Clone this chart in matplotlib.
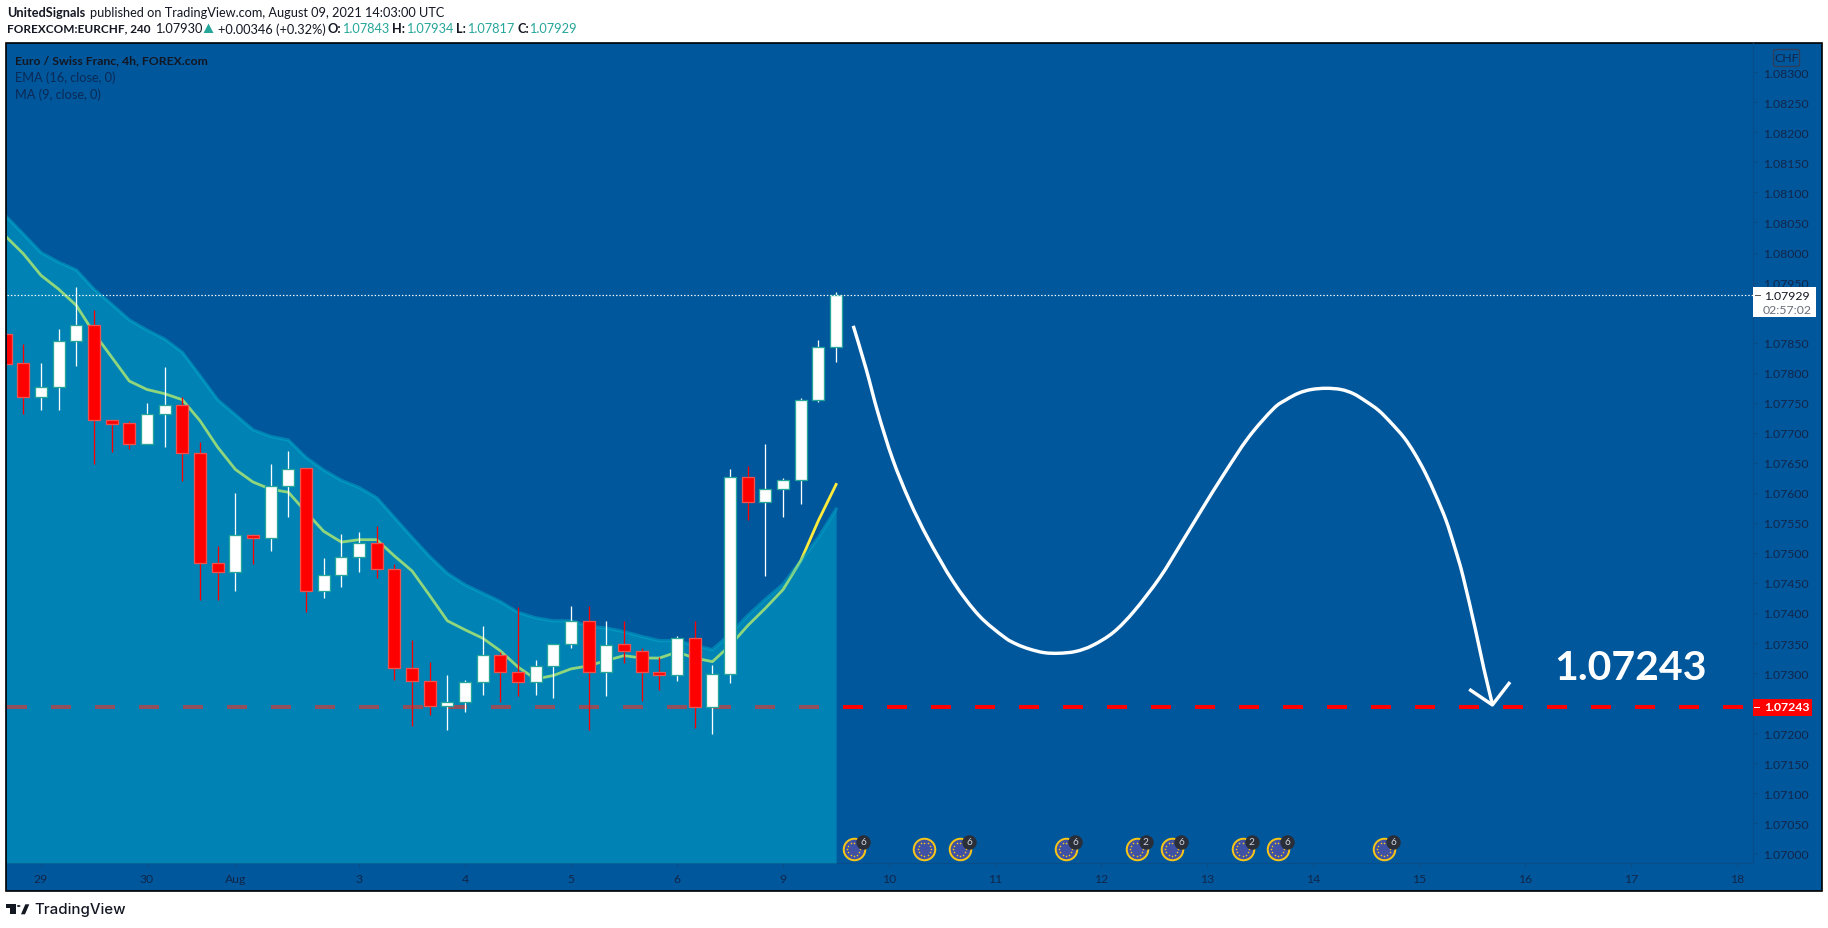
import matplotlib
matplotlib.use("Agg")
import matplotlib.pyplot as plt
from matplotlib.patches import Rectangle, Polygon, Circle, FancyBboxPatch, PathPatch
from matplotlib.path import Path
from matplotlib.lines import Line2D
from matplotlib.transforms import offset_copy
import math

# ---------- data ----------
opens = [1.07864,1.07816,1.07759,1.07777,1.07852,1.07879,1.07721,1.07716,1.07682,1.07732,1.07746,1.07666,1.07484,1.07469,1.07529,1.07524,1.07612,1.07641,1.07436,1.07464,1.07494,1.07516,1.07474,1.07308,1.07286,1.07246,1.07252,1.07285,1.07330,1.07301,1.07285,1.07312,1.07349,1.07386,1.07301,1.07348,1.07336,1.07301,1.07297,1.07359,1.07243,1.07298,1.07626,1.07584,1.07606,1.07621,1.07754,1.07842]
highs = [1.07864,1.07848,1.07816,1.07873,1.07943,1.07904,1.07721,1.07720,1.07750,1.07810,1.07760,1.07684,1.07511,1.07600,1.07531,1.07648,1.07670,1.07641,1.07492,1.07531,1.07535,1.07544,1.07481,1.07355,1.07318,1.07297,1.07288,1.07378,1.07335,1.07410,1.07322,1.07349,1.07412,1.07412,1.07387,1.07387,1.07341,1.07327,1.07362,1.07387,1.07313,1.07640,1.07644,1.07681,1.07625,1.07758,1.07854,1.07934]
lows = [1.07815,1.07731,1.07738,1.07738,1.07811,1.07648,1.07668,1.07673,1.07682,1.07676,1.07620,1.07422,1.07422,1.07437,1.07481,1.07503,1.07560,1.07402,1.07425,1.07444,1.07469,1.07459,1.07288,1.07212,1.07231,1.07206,1.07236,1.07264,1.07252,1.07262,1.07264,1.07259,1.07341,1.07206,1.07261,1.07316,1.07254,1.07272,1.07287,1.07208,1.07199,1.07284,1.07555,1.07461,1.07559,1.07582,1.07752,1.07817]
closes = [1.07815,1.07759,1.07777,1.07852,1.07879,1.07721,1.07715,1.07682,1.07732,1.07746,1.07666,1.07484,1.07469,1.07529,1.07524,1.07612,1.07640,1.07436,1.07464,1.07494,1.07516,1.07474,1.07308,1.07286,1.07246,1.07252,1.07285,1.07330,1.07301,1.07285,1.07312,1.07349,1.07386,1.07301,1.07347,1.07336,1.07301,1.07296,1.07359,1.07243,1.07298,1.07626,1.07584,1.07606,1.07621,1.07754,1.07842,1.07929]

ema16 = [1.08061,1.08031,1.08000,1.07984,1.07971,1.07939,1.07914,1.07888,1.07871,1.07856,1.07834,1.07795,1.07755,1.07730,1.07705,1.07694,1.07688,1.07659,1.07638,1.07621,1.07609,1.07592,1.07559,1.07526,1.07494,1.07466,1.07447,1.07433,1.07419,1.07401,1.07392,1.07387,1.07387,1.07378,1.07375,1.07369,1.07361,1.07354,1.07354,1.07346,1.07339,1.07365,1.07396,1.07423,1.07448,1.07487,1.07526,1.07573]
ma9 = [1.08027,1.07998,1.07962,1.07939,1.07912,1.07866,1.07826,1.07786,1.07772,1.07765,1.07755,1.07720,1.07676,1.07639,1.07618,1.07606,1.07601,1.07568,1.07536,1.07518,1.07522,1.07522,1.07495,1.07470,1.07429,1.07387,1.07372,1.07358,1.07337,1.07310,1.07290,1.07296,1.07307,1.07312,1.07321,1.07329,1.07325,1.07325,1.07335,1.07325,1.07319,1.07346,1.07379,1.07408,1.07439,1.07487,1.07554,1.07614]

last_close = 1.07929
target = 1.07243

curve_x = [47.97,48.70,49.36,50.20,51.15,52.22,53.65,55.08,56.51,57.22,57.94,58.77,59.61,60.56,61.51,62.70,63.89,65.32,66.51,67.71,68.90,70.33,71.75,72.47,73.18,73.90,74.73,75.57,76.28,77.00,77.71,78.42,79.14,79.73,80.33,80.93,81.52,82.00,82.47,83.19,83.66,84.14]
curve_y = [1.07878,1.07806,1.07734,1.07656,1.07587,1.07523,1.07451,1.07396,1.07360,1.07348,1.07340,1.07334,1.07333,1.07336,1.07346,1.07368,1.07404,1.07459,1.07515,1.07573,1.07629,1.07692,1.07740,1.07755,1.07766,1.07772,1.07774,1.07772,1.07765,1.07752,1.07737,1.07716,1.07692,1.07666,1.07634,1.07596,1.07554,1.07510,1.07462,1.07371,1.07307,1.07248]
arrow_x = [82.83,84.14,85.14]
arrow_y = [1.07273,1.07247,1.07285]

event_bars = [48,52,54,60,64,66,70,72,78]
event_counts = ["6","","6","6","2","6","2","6","6"]
event_price = 1.07007

price_ticks = [1.07000,1.07050,1.07100,1.07150,1.07200,1.07250,1.07300,1.07350,1.07400,1.07450,1.07500,1.07550,1.07600,1.07650,1.07700,1.07750,1.07800,1.07850,1.07900,1.07950,1.08000,1.08050,1.08100,1.08150,1.08200,1.08250,1.08300]
price_tick_labels = ["%.5f" % p for p in price_ticks]
price_tick_labels[18] = ""
date_ticks = [2,8,13,20,26,32,38,44,50,56,62,68,74,80,86,92,98]
date_labels = ["29","30","Aug","3","4","5","6","9","10","11","12","13","14","15","16","17","18"]

# ---------- style ----------
W, H = 1828, 929
BG = "#00579C"
DARK = "#12264A"
TEAL = "#26A69A"
FONT = "Lato"
plt.rcParams["font.family"] = FONT
plt.rcParams["lines.scale_dashes"] = False
PX = 0.72  # points per pixel

fig = plt.figure(figsize=(W/100, H/100), dpi=100, facecolor="white")

def fx(x): return x / W
def fy(y): return 1 - y / H

def frect(x0, y0, x1, y1, **kw):
    r = Rectangle((fx(x0), fy(y1)), (x1-x0)/W, (y1-y0)/H, transform=fig.transFigure, **kw)
    fig.add_artist(r)
    return r

frect(6, 43.5, 1821.5, 892.3, facecolor=BG, edgecolor="black", linewidth=1.2, zorder=-5)

ax = fig.add_axes([fx(6.5), fy(864), (1753-6.5)/W, (864-44)/H], zorder=0)
ax.set_facecolor("none")
x_per_px = 1/17.67
ax.set_xlim((6.5-5.63)*x_per_px, (1753-5.63)*x_per_px)
ax.set_ylim(1.07 + (854.3-864)/60077, 1.07 + (854.3-44)/60077)
for s in ["top","left"]:
    ax.spines[s].set_visible(False)
for s in ["right","bottom"]:
    ax.spines[s].set_color("#0A4C88")
    ax.spines[s].set_linewidth(0.8)

ax.yaxis.tick_right()
ax.set_yticks(price_ticks, price_tick_labels)
ax.set_xticks(date_ticks, date_labels)
ax.tick_params(axis="y", length=4*PX, width=0.7, color="#0A4C88", labelcolor=DARK, labelsize=8.8, pad=4.5)
ax.tick_params(axis="x", length=4*PX, width=0.7, color="#0A4C88", labelcolor=DARK, labelsize=8.8, pad=4)

xs = list(range(len(opens)))

# layers beneath the area: target line and MA
ax.plot([0.09, 98.34], [target, target], color="#FF0000", lw=4*PX, dashes=(20*PX, 24*PX),
        dash_capstyle="butt", zorder=1)
ax.plot(xs, ma9, color="#FFEB3B", lw=2.8*PX, zorder=2, solid_joinstyle="round")
ax.fill_between(xs, ema16, ax.get_ylim()[0], color="#00BCD4", alpha=0.435, lw=0, zorder=3)
ax.plot(xs, ema16, color="#00BCD4", lw=3.2*PX, alpha=0.42, zorder=3.2, solid_joinstyle="round")

# candles
up = [c >= o for o, c in zip(opens, closes)]
wick_cols = ["#FFFFFF" if u else "#FF0000" for u in up]
ax.vlines(xs, lows, highs, colors=wick_cols, lw=1.3*PX, zorder=4)
bottoms = [min(o, c) for o, c in zip(opens, closes)]
heights = [abs(o - c) for o, c in zip(opens, closes)]
ax.bar(xs, heights, bottom=bottoms, width=0.68,
       color=["#FFFFFF" if u else "#FF0000" for u in up],
       edgecolor=[TEAL if u else "#EF5350" for u in up], linewidth=1.3*PX, zorder=5)

# current price dotted line
ax.plot([0.05, 98.9], [last_close, last_close], color="#FFFFFF", lw=1.2*PX,
        dashes=(1.4*PX, 2.0*PX), zorder=6)

# hand drawn forecast: a smooth cubic path through the read points
def smooth_path(px, py):
    n = len(px)
    verts = [(px[0], py[0])]
    codes = [Path.MOVETO]
    for i in range(n-1):
        x0, y0 = (px[i-1], py[i-1]) if i > 0 else (px[i], py[i])
        x1, y1 = px[i], py[i]
        x2, y2 = px[i+1], py[i+1]
        x3, y3 = (px[i+2], py[i+2]) if i+2 < n else (x2, y2)
        verts += [(x1+(x2-x0)/6, y1+(y2-y0)/6), (x2-(x3-x1)/6, y2-(y3-y1)/6), (x2, y2)]
        codes += [Path.CURVE4]*3
    return Path(verts, codes)

ax.add_patch(PathPatch(smooth_path(curve_x, curve_y), facecolor="none", edgecolor="#FFFFFF",
                       lw=3.4*PX, zorder=7, capstyle="butt", joinstyle="round"))
ax.plot(arrow_x, arrow_y, color="#FFFFFF", lw=3.4*PX, zorder=7, solid_joinstyle="round", solid_capstyle="butt")
ax.text(91.94, 1.07309, "1.07243", color="#FFFFFF", fontsize=29.5, fontweight="bold",
        ha="center", va="center", zorder=7)

# calendar events
evy = [event_price] * len(event_bars)
ax.scatter(event_bars, evy, s=(21.5*PX)**2, facecolor="#3F51A5", edgecolor="#F5C518",
           linewidth=2*PX, zorder=8)
for k in range(12):
    a = 2*math.pi*k/12
    tr = offset_copy(ax.transData, fig=fig, x=6.5*PX*math.cos(a), y=6.5*PX*math.sin(a), units="points")
    ax.scatter(event_bars, evy, s=(1.6*PX)**2, color="#F5C518", linewidth=0, transform=tr, zorder=9)
bars_b = [b for b, c in zip(event_bars, event_counts) if c]
tr_b = offset_copy(ax.transData, fig=fig, x=9.3*PX, y=7.3*PX, units="points")
ax.scatter(bars_b, [event_price]*len(bars_b), s=(14.5*PX)**2, color="#2A2E39", linewidth=0, transform=tr_b, zorder=10)
for b, c in zip(event_bars, event_counts):
    if c:
        ax.text(b, event_price, c, color="#D1D4DC", fontsize=7.2, ha="center", va="center",
                transform=tr_b, zorder=11)

# price labels
frect(1753, 288.3, 1815.7, 318.3, facecolor="#FFFFFF", edgecolor="none", zorder=1)
frect(1753.3, 700, 1811.7, 716.7, facecolor="#FF0000", edgecolor="none", zorder=1)
fig.add_artist(Line2D([fx(1755), fx(1760)], [fy(296), fy(296)], color="#555555", lw=0.7, zorder=2))
fig.add_artist(Line2D([fx(1754), fx(1759)], [fy(708), fy(708)], color="#FFFFFF", lw=0.7, zorder=2))

def ftext(x, y, s, color=DARK, size=8.8, weight="normal", ha="left", z=3):
    return fig.text(fx(x), fy(y), s, color=color, fontsize=size, fontweight=weight,
                    ha=ha, va="center", zorder=z)

ftext(1764, 296, "1.07929", color="#131722")
ftext(1763, 311, "02:57:02", color="#6A6D78")
ftext(1764, 708, "1.07243", color="#FFFFFF", weight="bold")

# CHF badge
fig.add_artist(FancyBboxPatch((fx(1773.5), fy(67.5)), 26/W, 17/H, boxstyle="round,pad=0,rounding_size=0.002",
                              transform=fig.transFigure, facecolor="none", edgecolor="#2F3E5A", lw=1.0, zorder=2))
ftext(1786.5, 59, "CHF", ha="center", size=8.8)

# legend
ftext(15, 61, "Euro / Swiss Franc, 4h, FOREX.com", color="#131722", size=8.8, weight="bold")
ftext(15, 77.7, "EMA (16, close, 0)", color="#0C2A55", size=9.2)
ftext(15, 95, "MA (9, close, 0)", color="#0C2A55", size=9.2)

# header
ftext(7, 12.7, "UnitedSignals", color="#131722", size=9.2, weight="bold")
ftext(90, 12.7, "published on TradingView.com, August 09, 2021 14:03:00 UTC", color="#131722", size=9.2)
ftext(7, 29.3, "FOREXCOM:EURCHF, 240", color="#131722", size=8.5, weight="bold")
ftext(155.4, 29.3, "1.07930", color="#131722", size=9.2)
fig.add_artist(Polygon([(fx(203.6), fy(34)), (fx(213.5), fy(34)), (fx(208.5), fy(24.5))],
                       closed=True, transform=fig.transFigure, facecolor=TEAL, edgecolor="none"))
ftext(218, 29.3, "+0.00346 (+0.32%)", color="#131722", size=9.2)
for lx, lab, vx, val in [(328, "O:", 342.4, "1.07843"), (392, "H:", 406.5, "1.07934"),
                         (456, "L:", 467.4, "1.07817"), (517, "C:", 529.5, "1.07929")]:
    ftext(lx, 29.3, lab, color="#131722", size=9.2, weight="bold")
    ftext(vx, 29.3, val, color=TEAL, size=9.2)

# logo
LOGO = "#131722"
frect(6, 905.3, 15.7, 908.7, facecolor=LOGO, edgecolor="none", zorder=2)
frect(10, 908.7, 15.7, 915.3, facecolor=LOGO, edgecolor="none", zorder=2)
fig.add_artist(Circle((fx(18.7), fy(907)), 1.8/W, transform=fig.transFigure, facecolor=LOGO, edgecolor="none", zorder=2))
fig.add_artist(Polygon([(fx(25.3), fy(905.3)), (fx(29.3), fy(905.3)), (fx(25), fy(915.3)), (fx(21), fy(915.3))],
                       closed=True, transform=fig.transFigure, facecolor=LOGO, edgecolor="none", zorder=2))
fig.text(fx(34), fy(910.5), "TradingView", color=LOGO, fontsize=10.8, fontfamily="Inter",
         fontweight="medium", ha="left", va="center")

fig.savefig("out.png", dpi=100)
